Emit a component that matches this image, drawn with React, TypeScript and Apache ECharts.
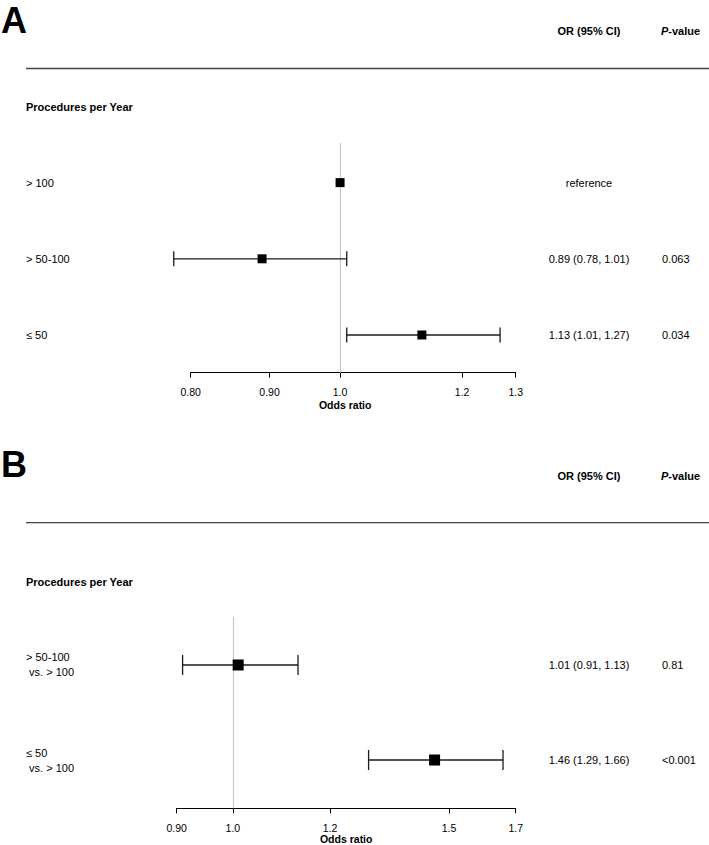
import React, { useEffect, useRef } from "react";
import * as echarts from "echarts";

const FONT = "'Liberation Sans', Arial, Helvetica, sans-serif";

// ---------- Panel A ----------
const A_ROWS = ["> 100", "> 50-100", "≤ 50"];
const A_OR = [1.0, 0.89, 1.13];
const A_LO: (number | null)[] = [null, 0.78, 1.01];
const A_HI: (number | null)[] = [null, 1.01, 1.27];
const A_OR_TEXT = ["reference", "0.89 (0.78, 1.01)", "1.13 (1.01, 1.27)"];
const A_P_TEXT = ["", "0.063", "0.034"];
const A_TICKS = [0.8, 0.9, 1.0, 1.2, 1.3];
const A_TICK_LABELS = ["0.80", "0.90", "1.0", "1.2", "1.3"];

// ---------- Panel B ----------
const B_ROWS = ["> 50-100\n vs. > 100", "≤ 50\n vs. > 100"];
const B_OR = [1.01, 1.46];
const B_LO: (number | null)[] = [0.91, 1.29];
const B_HI: (number | null)[] = [1.13, 1.66];
const B_OR_TEXT = ["1.01 (0.91, 1.13)", "1.46 (1.29, 1.66)"];
const B_P_TEXT = ["0.81", "<0.001"];
const B_TICKS = [0.9, 1.0, 1.2, 1.5, 1.7];
const B_TICK_LABELS = ["0.90", "1.0", "1.2", "1.5", "1.7"];

const HEADER_OR = "OR (95% CI)";
const SECTION = "Procedures per Year";
const XLAB = "Odds ratio";

type Panel = {
  rows: string[];
  or: number[];
  lo: (number | null)[];
  hi: (number | null)[];
  orText: string[];
  pText: string[];
  ticks: number[];
  tickLabels: string[];
  grid: { left: number; right: number; top: number; height: number };
  yMin: number;
  yMax: number;
  square: number;
  cap: number;
  namePad: number[];
  nameGap: number;
};

const panels: Panel[] = [
  {
    rows: A_ROWS, or: A_OR, lo: A_LO, hi: A_HI, orText: A_OR_TEXT, pText: A_P_TEXT,
    ticks: A_TICKS, tickLabels: A_TICK_LABELS,
    grid: { left: 190.7, right: 193.3, top: 143, height: 229.7 },
    yMin: -0.52, yMax: 2.495, square: 9, cap: 7.5, namePad: [0, 16, 0, 0], nameGap: 27,
  },
  {
    rows: B_ROWS, or: B_OR, lo: B_LO, hi: B_HI, orText: B_OR_TEXT, pText: B_P_TEXT,
    ticks: B_TICKS, tickLabels: B_TICK_LABELS,
    grid: { left: 176.7, right: 193.3, top: 616.7, height: 191.6 },
    yMin: -0.508, yMax: 1.508, square: 11, cap: 10, namePad: [0, 0, 0, 0], nameGap: 25.5,
  },
];

function buildOption() {
  const grids: any[] = [];
  const xAxes: any[] = [];
  const yAxes: any[] = [];
  const series: any[] = [];

  panels.forEach((p, i) => {
    grids.push({ ...p.grid, outerBoundsMode: "none", containLabel: false });
    const lnTicks = p.ticks.map((t) => Math.log(t));
    xAxes.push({
      type: "value",
      gridIndex: i,
      min: lnTicks[0],
      max: lnTicks[lnTicks.length - 1],
      position: "bottom",
      axisLine: { show: true, onZero: false, lineStyle: { color: "#000", width: 1 } },
      axisTick: { show: true, customValues: lnTicks, length: 5, lineStyle: { color: "#000", width: 1 } },
      axisLabel: {
        show: true,
        customValues: lnTicks,
        margin: 14,
        fontSize: 10.5,
        fontFamily: FONT,
        color: "#000",
        formatter: (v: number) => {
          const k = lnTicks.findIndex((t) => Math.abs(t - v) < 1e-6);
          return k >= 0 ? p.tickLabels[k] : "";
        },
      },
      splitLine: { show: false },
      name: XLAB,
      nameLocation: "middle",
      nameGap: p.nameGap,
      nameMoveOverlap: false,
      nameTextStyle: {
        fontSize: 10.5,
        fontWeight: "bold",
        fontFamily: FONT,
        color: "#000",
        padding: p.namePad,
      },
    });
    yAxes.push({
      type: "value",
      gridIndex: i,
      min: p.yMin,
      max: p.yMax,
      inverse: true,
      show: false,
    });

    // reference line at OR = 1
    series.push({
      type: "scatter",
      xAxisIndex: i,
      yAxisIndex: i,
      data: [],
      z: 1,
      silent: true,
      markLine: {
        z: 1,
        silent: true,
        symbol: ["none", "none"],
        label: { show: false },
        lineStyle: { color: "#c8c8c8", width: 1.2, type: "solid" },
        data: [{ xAxis: 0 }],
      },
    });

    // confidence intervals
    const ciData: number[][] = [];
    p.rows.forEach((_, r) => {
      const lo = p.lo[r];
      const hi = p.hi[r];
      if (lo != null && hi != null) ciData.push([Math.log(lo), r, Math.log(hi)]);
    });
    const cap = p.cap;
    series.push({
      type: "custom",
      xAxisIndex: i,
      yAxisIndex: i,
      z: 6,
      clip: false,
      silent: true,
      encode: { x: [0, 2], y: 1 },
      data: ciData,
      renderItem: (params: any, api: any) => {
        const y = api.value(1);
        const a = api.coord([api.value(0), y]);
        const b = api.coord([api.value(2), y]);
        const st = { stroke: "#1a1a1a", lineWidth: 1.3 };
        return {
          type: "group",
          children: [
            { type: "line", shape: { x1: a[0], y1: a[1], x2: b[0], y2: b[1] }, style: st },
            { type: "line", shape: { x1: a[0], y1: a[1] - cap, x2: a[0], y2: a[1] + cap }, style: st },
            { type: "line", shape: { x1: b[0], y1: b[1] - cap, x2: b[0], y2: b[1] + cap }, style: st },
          ],
        };
      },
    });

    // point estimates
    series.push({
      type: "scatter",
      xAxisIndex: i,
      yAxisIndex: i,
      z: 8,
      silent: true,
      symbol: "rect",
      symbolSize: p.square,
      itemStyle: { color: "#000", opacity: 1 },
      data: p.or.map((v, r) => [Math.log(v), r]),
    });

    // row texts
    series.push({
      type: "custom",
      xAxisIndex: i,
      yAxisIndex: i,
      z: 8,
      clip: false,
      silent: true,
      encode: { x: 0, y: 1 },
      data: p.rows.map((_, r) => [0, r]),
      renderItem: (params: any, api: any) => {
        const r = params.dataIndex;
        const y = api.coord([0, api.value(1)])[1];
        const base = { fill: "#000", fontFamily: FONT, fontSize: 11, verticalAlign: "middle", lineHeight: 15 };
        return {
          type: "group",
          children: [
            { type: "text", x: 26, y, style: { ...base, text: p.rows[r], align: "left" } },
            { type: "text", x: 589, y, style: { ...base, text: p.orText[r], align: "center" } },
            { type: "text", x: 662, y, style: { ...base, text: p.pText[r], align: "left" } },
          ],
        };
      },
    });
  });

  const headerText = (x: number, y: number, text: string, align: string, extra: any = {}) => ({
    type: "text",
    x,
    y,
    silent: true,
    style: {
      text,
      fill: "#000",
      fontFamily: FONT,
      fontSize: 11,
      fontWeight: "bold",
      align,
      verticalAlign: "middle",
      ...extra,
    },
  });

  const pHeader = (y: number) =>
    headerText(661, y, "{i|P}-value", "left", {
      rich: {
        i: { fontStyle: "italic", fontWeight: "bold", fontSize: 11, fontFamily: FONT, fill: "#000" },
      },
    });

  const graphic = [
    headerText(1, 20, "A", "left", { fontSize: 36 }),
    headerText(589, 31, HEADER_OR, "center"),
    pHeader(31),
    { type: "line", silent: true, shape: { x1: 26, y1: 68.5, x2: 709, y2: 68.5 }, style: { stroke: "#444", lineWidth: 1.3 } },
    headerText(26, 107, SECTION, "left"),

    headerText(1, 464, "B", "left", { fontSize: 36 }),
    headerText(589, 476, HEADER_OR, "center"),
    pHeader(476),
    { type: "line", silent: true, shape: { x1: 26, y1: 522.7, x2: 709, y2: 522.7 }, style: { stroke: "#444", lineWidth: 1.3 } },
    headerText(26, 582, SECTION, "left"),
  ];

  return {
    animation: false,
    backgroundColor: "#fff",
    grid: grids,
    xAxis: xAxes,
    yAxis: yAxes,
    series,
    graphic,
  };
}

export default function App() {
  const ref = useRef<HTMLDivElement>(null);
  useEffect(() => {
    if (!ref.current) return;
    const chart = echarts.init(ref.current, undefined, { renderer: "svg" });
    chart.setOption(buildOption() as any);
    return () => chart.dispose();
  }, []);
  return (
    <div
      ref={ref}
      style={{ position: "absolute", left: 0, top: 0, width: 709, height: 845, background: "#fff" }}
    />
  );
}
